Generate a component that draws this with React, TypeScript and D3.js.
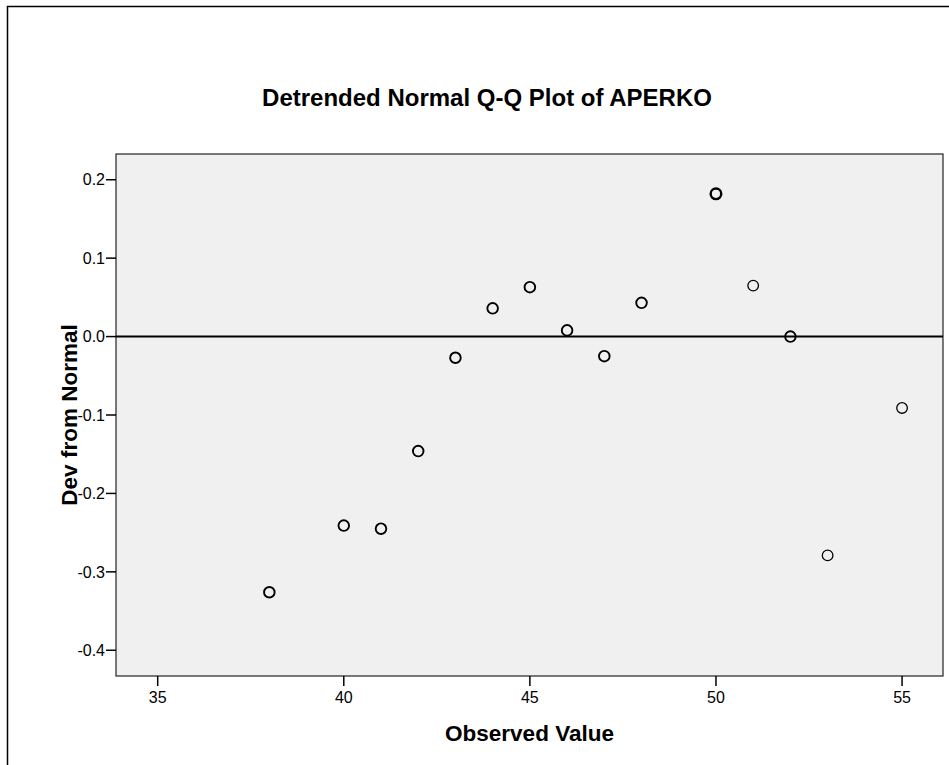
import React from "react";
import * as d3 from "d3";

const observed = [38, 40, 41, 42, 43, 44, 45, 46, 47, 48, 50, 51, 52, 53, 55];
const devFromNormal = [-0.326, -0.241, -0.245, -0.146, -0.027, 0.036, 0.063, 0.008, -0.025, 0.043, 0.182, 0.065, 0.0, -0.279, -0.091];
const caseCounts = [2, 2, 2, 2, 2, 2, 2, 2, 2, 2, 3, 1, 2, 1, 1];
const xTicks = [35, 40, 45, 50, 55];
const yTicks = [-0.4, -0.3, -0.2, -0.1, 0.0, 0.1, 0.2];
const title = "Detrended Normal Q-Q Plot of APERKO";
const xLabel = "Observed Value";
const yLabel = "Dev from Normal";

const W = 949;
const H = 765;
const plot = { left: 116, top: 154, right: 943, bottom: 676 };
const font = "Arial, 'Liberation Sans', sans-serif";

export default function App() {
  const x = d3.scaleLinear().domain([33.88, 56.1]).range([plot.left, plot.right]);
  const y = d3.scaleLinear().domain([-0.4328, 0.2328]).range([plot.bottom, plot.top]);
  const fmt = (t: number) => t.toFixed(1);
  const cx = (plot.left + plot.right) / 2;
  const cy = (plot.top + plot.bottom) / 2;
  return (
    <svg width={W} height={H} style={{ position: "absolute", left: 0, top: 0, background: "#fff" }}>
      <rect x={7.5} y={6.5} width={1200} height={1200} fill="#fff" stroke="#000" strokeWidth={1.5} />
      <text x={487} y={106} textAnchor="middle" fontFamily={font} fontWeight="bold" fontSize={24} fill="#000">{title}</text>
      <rect x={plot.left} y={plot.top} width={plot.right - plot.left} height={plot.bottom - plot.top} fill="#f0f0f0" stroke="#222" strokeWidth={1.2} />
      <line x1={plot.left} x2={plot.right} y1={y(0)} y2={y(0)} stroke="#000" strokeWidth={2} />
      {yTicks.map((t) => (
        <g key={"y" + t}>
          <line x1={plot.left - 10} x2={plot.left} y1={y(t)} y2={y(t)} stroke="#000" strokeWidth={1.5} />
          <text x={plot.left - 11} y={y(t)} dy="0.36em" textAnchor="end" fontFamily={font} fontSize={16} fill="#000">{fmt(t)}</text>
        </g>
      ))}
      {xTicks.map((t) => (
        <g key={"x" + t}>
          <line x1={x(t)} x2={x(t)} y1={plot.bottom} y2={plot.bottom + 10} stroke="#000" strokeWidth={1.5} />
          <text x={x(t)} y={plot.bottom + 27} textAnchor="middle" fontFamily={font} fontSize={16} fill="#000">{t}</text>
        </g>
      ))}
      {observed.map((v, i) => (
        <circle key={"p" + i} cx={x(v)} cy={y(devFromNormal[i])} r={5.3} fill="none" stroke="#000"
          strokeWidth={caseCounts[i] >= 3 ? 2.4 : caseCounts[i] === 2 ? 1.9 : 1.3} />
      ))}
      <text x={cx} y={741} textAnchor="middle" fontFamily={font} fontWeight="bold" fontSize={22.5} fill="#000">{xLabel}</text>
      <text transform={`translate(${77},${cy}) rotate(-90)`} textAnchor="middle" fontFamily={font} fontWeight="bold" fontSize={22.5} fill="#000">{yLabel}</text>
    </svg>
  );
}
